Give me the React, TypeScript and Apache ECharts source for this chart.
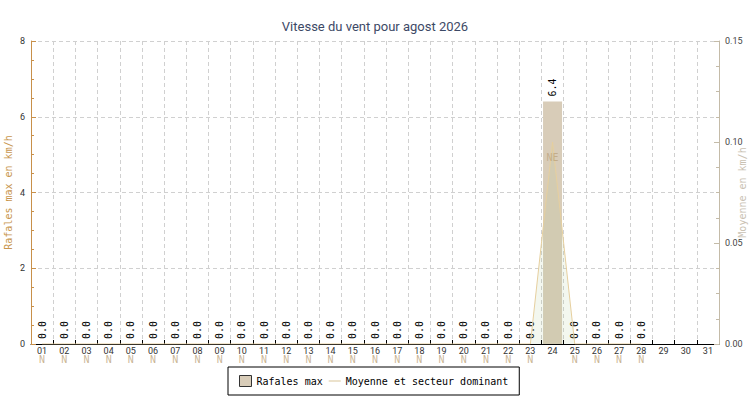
import React, { useEffect, useRef } from "react";
import * as echarts from "echarts";

const days = [
  "01", "02", "03", "04", "05", "06", "07", "08", "09", "10",
  "11", "12", "13", "14", "15", "16", "17", "18", "19", "20",
  "21", "22", "23", "24", "25", "26", "27", "28", "29", "30", "31",
];
const gusts: (number | null)[] = [
  0, 0, 0, 0, 0, 0, 0, 0, 0, 0,
  0, 0, 0, 0, 0, 0, 0, 0, 0, 0,
  0, 0, 0, 6.4, 0, 0, 0, 0, null, null, null,
];
const meanSpeed: (number | null)[] = [
  0, 0, 0, 0, 0, 0, 0, 0, 0, 0,
  0, 0, 0, 0, 0, 0, 0, 0, 0, 0,
  0, 0, 0, 0.1, 0, 0, 0, 0, null, null, null,
];
const directions = [
  "N", "N", "N", "N", "N", "N", "N", "N", "N", "N",
  "N", "N", "N", "N", "N", "N", "N", "N", "N", "N",
  "N", "N", "N", "NE", "N", "N", "N", "N", "", "", "",
];

const MONO = "DejaVu Sans Mono";
const DIR_COLOR = "rgba(180,150,105,0.7)";
const GRID_DASH = { color: "#d0d0d0", type: [4, 3] as number[] };

export default function App() {
  const ref = useRef<HTMLDivElement>(null);
  useEffect(() => {
    document.body.style.margin = "0";
    const chart = echarts.init(ref.current!, null, { renderer: "svg" });
    chart.setOption({
      animation: false,
      backgroundColor: "#fff",
      title: {
        text: "Vitesse du vent pour agost 2026",
        left: "center",
        top: 15,
        textStyle: { fontFamily: "Roboto", fontSize: 13, fontWeight: "normal", color: "#3d4966" },
      },
      legend: {
        left: 228,
        top: 367,
        padding: [8, 11],
        borderColor: "#000",
        borderWidth: 1,
        itemWidth: 12,
        itemHeight: 11,
        itemGap: 5,
        textStyle: { fontFamily: MONO, fontSize: 10, color: "#000" },
        data: [
          { name: "Rafales max", icon: "rect", itemStyle: { borderColor: "#333", borderWidth: 1 } },
          {
            name: "Moyenne et secteur dominant",
            itemStyle: { opacity: 0 },
            lineStyle: { color: "#ece2cc", width: 2 },
          },
        ],
      },
      grid: { left: 31, right: 31, top: 41, bottom: 56, containLabel: false, outerBoundsMode: "none" },
      xAxis: [
        {
          type: "category",
          data: days,
          boundaryGap: true,
          z: 3,
          axisLine: { lineStyle: { color: "#000", width: 1 } },
          axisTick: { show: true, inside: true, length: 4, interval: 0, lineStyle: { color: "#000" } },
          axisLabel: {
            interval: 0,
            fontFamily: "Roboto",
            fontSize: 9,
            color: "#333",
            margin: 3,
            lineHeight: 8,
            formatter: (v: string, i: number) =>
              meanSpeed[i] === 0 && directions[i] ? `${v}\n{d|${directions[i]}}` : v,
            rich: {
              d: { fontFamily: MONO, fontSize: 10, color: DIR_COLOR, lineHeight: 8 },
            },
          },
          splitLine: { show: false },
        },
        {
          type: "category",
          data: days,
          boundaryGap: true,
          position: "bottom",
          z: 0,
          axisLine: { show: false },
          axisTick: { show: false },
          axisLabel: { show: false },
          splitLine: { show: true, interval: 0, lineStyle: GRID_DASH },
        },
      ],
      yAxis: [
        {
          type: "value",
          min: 0,
          max: 8,
          interval: 2,
          z: 4,
          name: "Rafales max en km/h",
          nameLocation: "middle",
          nameGap: 18,
          nameMoveOverlap: false,
          nameTextStyle: { fontFamily: MONO, fontSize: 10, color: "#c8964e" },
          axisLine: { show: true, lineStyle: { color: "#c8904a" } },
          axisTick: { show: true, inside: true, length: 5, lineStyle: { color: "#c8904a" } },
          minorTick: { show: true, splitNumber: 4, length: 3, lineStyle: { color: "#c8904a" } },
          axisLabel: { fontFamily: "Roboto", fontSize: 9, color: "#333", margin: 6 },
          splitLine: { show: false },
        },
        {
          type: "value",
          min: 0,
          max: 0.15,
          interval: 0.05,
          position: "right",
          z: 4,
          name: "Moyenne en km/h",
          nameLocation: "middle",
          nameGap: 18,
          nameMoveOverlap: false,
          nameTextStyle: { fontFamily: MONO, fontSize: 10, color: "#c9c1b2" },
          axisLine: { show: true, lineStyle: { color: "#c4bba8" } },
          axisTick: { show: true, inside: true, length: 5, lineStyle: { color: "#c4bba8" } },
          minorTick: { show: true, splitNumber: 4, length: 3, lineStyle: { color: "#c4bba8" } },
          axisLabel: {
            fontFamily: "Roboto",
            fontSize: 9,
            color: "#444",
            margin: 6,
            formatter: (v: number) => v.toFixed(2),
          },
          splitLine: { show: false },
        },
        {
          type: "value",
          min: 0,
          max: 8,
          interval: 2,
          position: "left",
          z: 0,
          axisLine: { show: false },
          axisTick: { show: false },
          axisLabel: { show: false },
          splitLine: { show: true, lineStyle: GRID_DASH },
        },
      ],
      series: [
        {
          name: "Rafales max",
          type: "bar",
          data: gusts,
          barWidth: 19,
          itemStyle: { color: "#d8ccb8" },
          label: {
            show: true,
            position: "top",
            rotate: 90,
            align: "left",
            verticalAlign: "middle",
            distance: 5,
            fontFamily: MONO,
            fontSize: 10,
            color: "#000",
            formatter: (p: any) => (p.value == null ? "" : Number(p.value).toFixed(1)),
          },
        },
        {
          name: "Moyenne et secteur dominant",
          type: "line",
          yAxisIndex: 1,
          data: meanSpeed,
          symbol: "none",
          lineStyle: { color: "#e6cf9e", width: 1 },
          itemStyle: { color: "#e6cf9e" },
          areaStyle: { color: "rgba(175,200,150,0.22)" },
        },
        {
          name: "dir",
          type: "scatter",
          yAxisIndex: 1,
          data: meanSpeed.map((v) => (v != null && v > 0 ? v : null)),
          symbolSize: 1,
          silent: true,
          itemStyle: { color: "transparent" },
          z: 4,
          label: {
            show: true,
            position: "bottom",
            distance: 11,
            lineHeight: 7,
            fontFamily: MONO,
            fontSize: 10,
            color: DIR_COLOR,
            formatter: (p: any) => directions[p.dataIndex],
          },
        },
      ],
    });
    return () => chart.dispose();
  }, []);
  return <div ref={ref} style={{ width: 750, height: 400 }} />;
}
